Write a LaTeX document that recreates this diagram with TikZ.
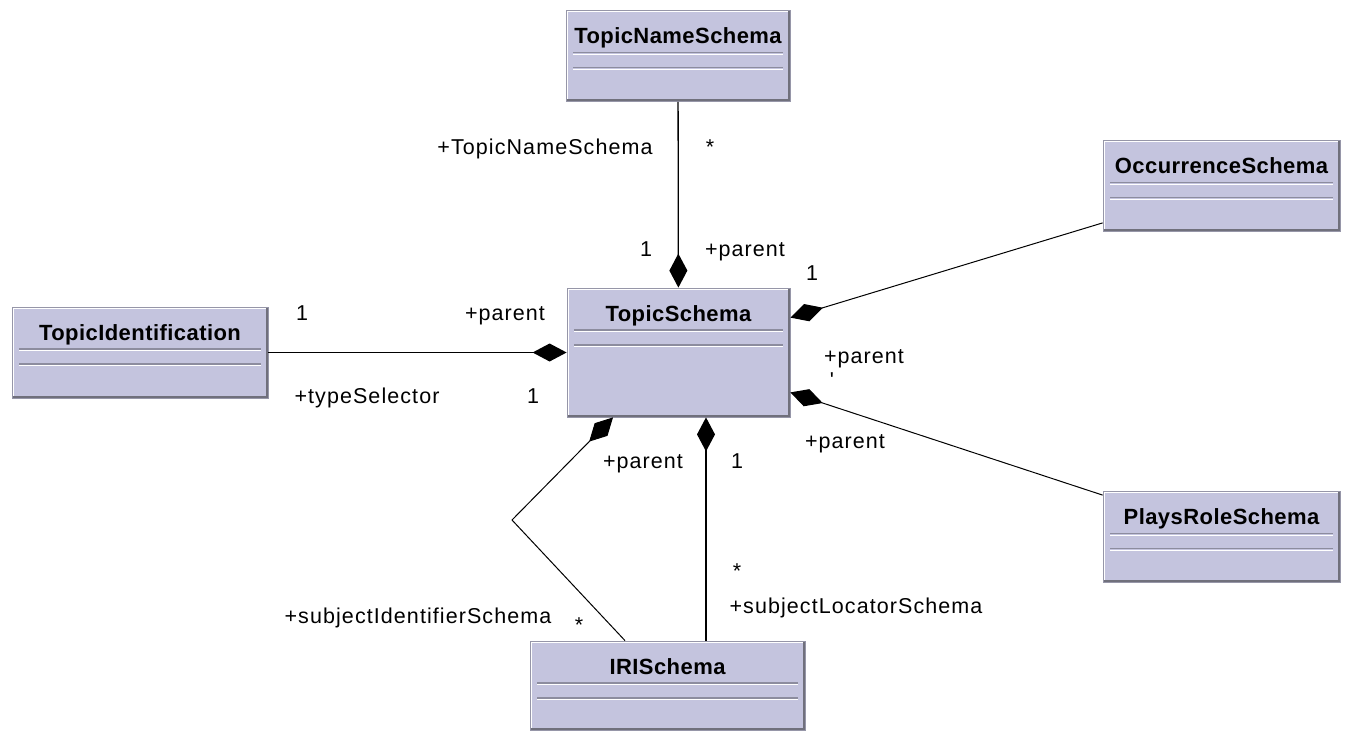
\documentclass[tikz,border=0pt]{standalone}
\usepackage{fontspec}
\setmainfont{Liberation Sans}[LetterSpace=2]
\newfontfamily\rolefont{Liberation Sans}[LetterSpace=5, Ligatures=TeXOff]
\usetikzlibrary{arrows.meta, calc}
\definecolor{boxfill}{RGB}{196,196,222}
\definecolor{boxedge}{RGB}{150,150,168}
\definecolor{boxshade}{RGB}{112,112,124}
\definecolor{sepgray}{RGB}{140,140,158}
\tikzset{
    classbox/.style={rectangle, draw=boxedge, fill=boxfill, line width=0.8pt, inner sep=0pt,
        text height=33pt, text depth=58pt, font=\fontsize{22}{26}\selectfont\bfseries,
        path picture={
            \foreach \d in {42,57} {
                \draw[sepgray, line width=1.4pt] ([xshift=7pt,yshift=-\d pt]path picture bounding box.north west) -- ([xshift=-7pt,yshift=-\d pt]path picture bounding box.north east);
                \draw[white, line width=1.2pt] ([xshift=7pt,yshift={-(\d+1.6)}]path picture bounding box.north west) -- ([xshift=-7pt,yshift={-(\d+1.6)}]path picture bounding box.north east);
            }
            \draw[white, line width=3pt] (path picture bounding box.south west) -- (path picture bounding box.north west) -- (path picture bounding box.north east);
            \draw[boxshade, line width=5pt] (path picture bounding box.north east) -- (path picture bounding box.south east) -- (path picture bounding box.south west);
        }},
    compose/.style={-{Diamond[length=34pt,width=18pt]}, line width=1.3pt, black},
    role/.style={font=\rolefont\fontsize{21.5}{25}\selectfont, anchor=base, inner sep=0pt}
}
\begin{document}
\begin{tikzpicture}[x=1pt, y=-1pt]
    \useasboundingbox (0,0) rectangle (1347,731);

    % Classes
    \node (TopicNameSchema) [classbox, minimum width=224pt] at (678,56) {TopicNameSchema};
    \node (TopicSchema) [classbox, minimum width=223pt, text depth=96pt] at (678.5,352.5) {TopicSchema};
    \node (TopicIdentification) [classbox, minimum width=256pt] at (140,352.5) {TopicIdentification};
    \node (OccurrenceSchema) [classbox, minimum width=237pt] at (1221.5,186) {OccurrenceSchema};
    \node (PlaysRoleSchema) [classbox, minimum width=237pt] at (1221.5,537) {PlaysRoleSchema};
    \node (IRISchema) [classbox, minimum width=275pt, text depth=56pt] at (667.5,685.5) {IRISchema};
    \coordinate (bendpt) at (512,520);

    % Compositions
    \draw [compose] (TopicNameSchema) -- (TopicSchema);
    \draw [compose] (TopicIdentification) -- (TopicSchema);
    \draw [compose, line width=1pt] ([yshift=9pt]OccurrenceSchema.south west) -- ([yshift=-30pt]TopicSchema.north east);
    \draw [compose, line width=1pt] ([yshift=-4pt]PlaysRoleSchema.north west) -- ([yshift=25pt]TopicSchema.south east);
    \draw [compose] ([xshift=38.5pt]IRISchema.north) -- ([xshift=38.5pt]IRISchema.north |- TopicSchema.south);
    \draw [compose, line width=1pt] ([xshift=-42.5pt]IRISchema.north) -- (bendpt) -- ([xshift=-65.5pt]TopicSchema.south);

    % Role names and multiplicities
    \node (nameRole) [role] at (545,154) {+TopicNameSchema};
    \node (nameMult) [role] at (710,154) {*};
    \node (nameParentMult) [role] at (646,256) {1};
    \node (nameParent) [role] at (745,256) {+parent};
    \node (occMult) [role] at (812,280) {1};
    \node (occParent) [role] at (864,363) {+parent};
    \node (occTick) [role] at (832,387) {'};
    \node (playsParent) [role] at (845,448) {+parent};
    \node (identMult) [role] at (302,320) {1};
    \node (identParent) [role] at (505,320) {+parent};
    \node (identRole) [role] at (367,403) {+typeSelector};
    \node (identParentMult) [role] at (533,403) {1};
    \node (iriParent) [role] at (643,468) {+parent};
    \node (iriParentMult) [role] at (737,468) {1};
    \node (locatorMult) [role] at (737,578) {*};
    \node (locatorRole) [role] at (856,613) {+subjectLocatorSchema};
    \node (identifierRole) [role] at (418,623) {+subjectIdentifierSchema};
    \node (identifierMult) [role] at (579,632) {*};

\end{tikzpicture}
\end{document}
